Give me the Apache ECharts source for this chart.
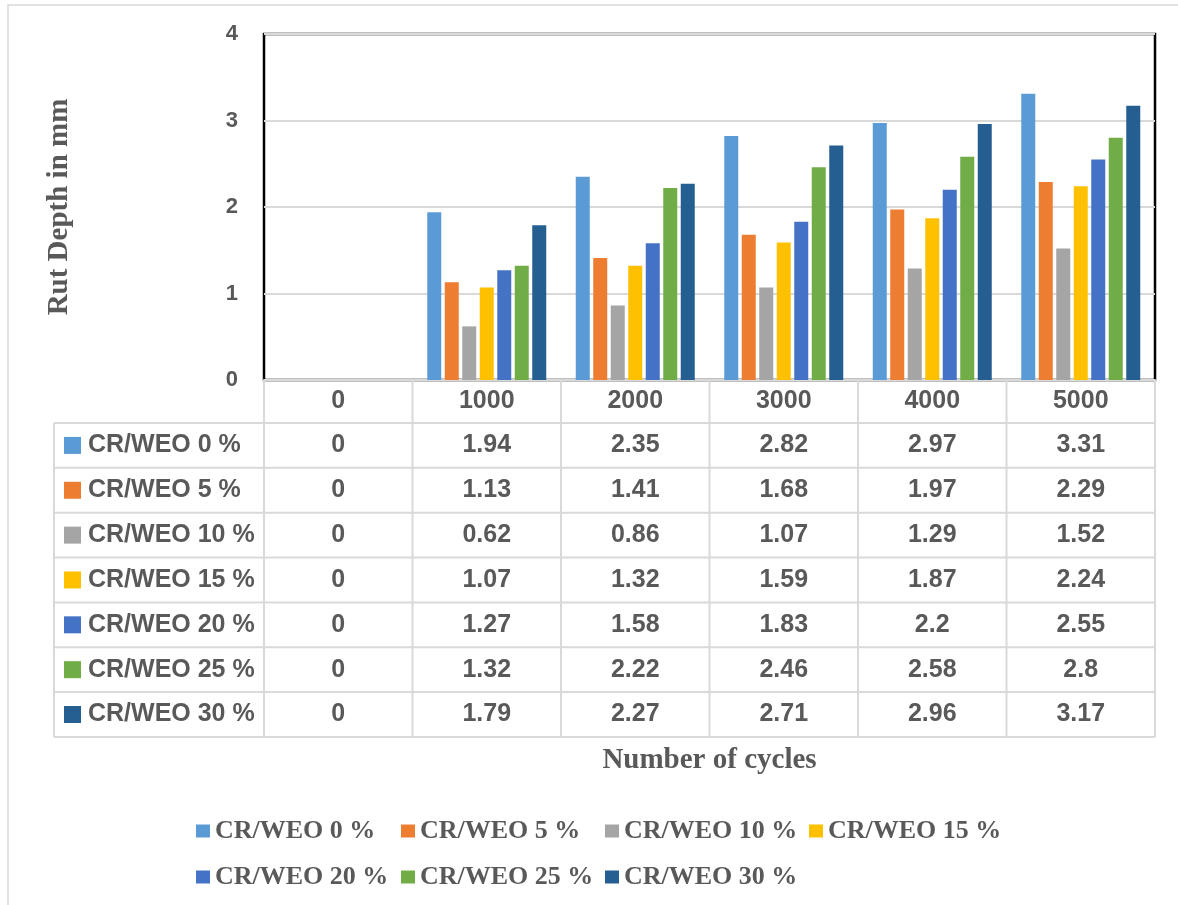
<!DOCTYPE html>
<html>
<head>
<meta charset="utf-8">
<script src="https://cdn.jsdelivr.net/npm/echarts@6/dist/echarts.min.js"></script>
<style>html,body{margin:0;padding:0;background:#fff}#c{width:1178px;height:905px}</style>
</head>
<body>
<div id="c"></div>
<script>
var categories = ['0', '1000', '2000', '3000', '4000', '5000'];
var seriesNames = ['CR/WEO 0 %', 'CR/WEO 5 %', 'CR/WEO 10 %', 'CR/WEO 15 %', 'CR/WEO 20 %', 'CR/WEO 25 %', 'CR/WEO 30 %'];
var cr0  = [0, 1.94, 2.35, 2.82, 2.97, 3.31];
var cr5  = [0, 1.13, 1.41, 1.68, 1.97, 2.29];
var cr10 = [0, 0.62, 0.86, 1.07, 1.29, 1.52];
var cr15 = [0, 1.07, 1.32, 1.59, 1.87, 2.24];
var cr20 = [0, 1.27, 1.58, 1.83, 2.2, 2.55];
var cr25 = [0, 1.32, 2.22, 2.46, 2.58, 2.8];
var cr30 = [0, 1.79, 2.27, 2.71, 2.96, 3.17];
var yTicks = [0, 1, 2, 3, 4];
var colors = ['#5B9BD5', '#ED7D31', '#A5A5A5', '#FFC000', '#4472C4', '#70AD47', '#255E91'];
var allData = [cr0, cr5, cr10, cr15, cr20, cr25, cr30];

var GRID = {left: 264, right: 23, top: 34, bottom: 525};
var TXT = '#595959';
var LINE = '#D9D9D9';
var SANS = '"Liberation Sans", Arial, sans-serif';
var SERIF = '"Liberation Serif", "Times New Roman", serif';

var chart = echarts.init(document.getElementById('c'), null, {renderer: 'canvas'});

var series = seriesNames.map(function (n, i) {
  return {
    name: n, type: 'bar', data: allData[i],
    barWidth: 14, barGap: '25%',
    itemStyle: {color: colors[i]},
    z: 3
  };
});

// legend laid out in four columns (row-major order like the reference)
var legendCols = [[0, 4], [1, 5], [2, 6], [3]];
var legendLeft = [196, 401, 605, 809];
var legends = legendCols.map(function (idx, c) {
  return {
    orient: 'vertical', left: legendLeft[c], top: 818, padding: 0,
    data: idx.map(function (i) { return seriesNames[i]; }),
    icon: 'rect', itemWidth: 14, itemHeight: 13, itemGap: 20,
    textStyle: {fontFamily: SERIF, fontWeight: 'bold', fontSize: 26, color: TXT}
  };
});

var option = {
  animation: false,
  backgroundColor: '#fff',
  grid: {left: GRID.left, right: GRID.right, top: GRID.top, bottom: GRID.bottom, show: true, borderColor: '#000', borderWidth: 2.5},
  xAxis: {
    type: 'category', data: categories,
    axisLine: {show: true, lineStyle: {color: LINE, width: 2}},
    axisTick: {show: false}, axisLabel: {show: false},
    name: 'Number of cycles', nameLocation: 'middle', nameGap: 366,
    nameTextStyle: {fontFamily: SERIF, fontWeight: 'bold', fontSize: 29, color: TXT}
  },
  yAxis: {
    type: 'value', min: 0, max: 4, interval: 1,
    axisLine: {show: false}, axisTick: {show: false},
    splitLine: {show: true, lineStyle: {color: LINE, width: 2}},
    axisLabel: {margin: 26, fontFamily: SANS, fontWeight: 'bold', fontSize: 22, color: TXT,
      formatter: function (v) { return yTicks.indexOf(v) >= 0 ? String(v) : ''; }},
    name: 'Rut Depth in mm', nameLocation: 'middle', nameGap: 190, nameRotate: 90,
    nameTextStyle: {fontFamily: SERIF, fontWeight: 'bold', fontSize: 29, color: TXT}
  },
  legend: legends,
  series: series
};
chart.setOption(option);

// Build the data table below the axis from the data arrays, aligned with the category axis
function buildTable() {
  var centers = categories.map(function (c) { return chart.convertToPixel({xAxisIndex: 0}, c); });
  var band = centers[1] - centers[0];
  var left = centers[0] - band / 2;
  var right = centers[centers.length - 1] + band / 2;
  var axisY = chart.convertToPixel({yAxisIndex: 0}, 0);
  var headerBottom = 423, rowH = 44.85, labelLeft = 54;
  var els = [];
  var lineStyle = {stroke: LINE, lineWidth: 2};
  els.push({type: 'rect', shape: {x: 8, y: 5, width: 1300, height: 1000}, style: {fill: null, stroke: '#D9D9D9', lineWidth: 1.5}, silent: true, z: 0});
  var nRows = seriesNames.length;
  var tableBottom = headerBottom + rowH * nRows;
  for (var k = 0; k <= categories.length; k++) {
    var x = left + band * k;
    els.push({type: 'line', shape: {x1: x, y1: axisY, x2: x, y2: tableBottom}, style: lineStyle, z: 1});
  }
  els.push({type: 'line', shape: {x1: labelLeft, y1: headerBottom, x2: labelLeft, y2: tableBottom}, style: lineStyle, z: 1});
  for (var r = 0; r <= nRows; r++) {
    var y = headerBottom + rowH * r;
    els.push({type: 'line', shape: {x1: labelLeft, y1: y, x2: right, y2: y}, style: lineStyle, z: 1});
  }
  categories.forEach(function (c, i) {
    els.push({type: 'text', x: centers[i], y: (axisY + headerBottom) / 2,
      style: {text: c, fill: TXT, font: 'bold 25px ' + SANS, align: 'center', verticalAlign: 'middle'}, z: 2});
  });
  seriesNames.forEach(function (n, r) {
    var cy = headerBottom + rowH * r + rowH / 2;
    els.push({type: 'rect', shape: {x: 64, y: cy - 8.5, width: 17, height: 17}, style: {fill: colors[r]}, z: 2});
    els.push({type: 'text', x: 88, y: cy,
      style: {text: n, fill: TXT, font: 'bold 25px ' + SANS, align: 'left', verticalAlign: 'middle'}, z: 2});
    allData[r].forEach(function (v, i) {
      els.push({type: 'text', x: centers[i], y: cy,
        style: {text: String(v), fill: TXT, font: 'bold 25px ' + SANS, align: 'center', verticalAlign: 'middle'}, z: 2});
    });
  });
  chart.setOption({graphic: {elements: els}});
}
buildTable();
</script>
</body>
</html>
